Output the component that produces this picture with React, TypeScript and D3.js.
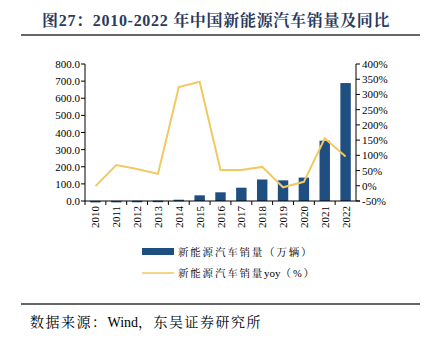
import React from "react";
import * as d3 from "d3";

const years = ["2010","2011","2012","2013","2014","2015","2016","2017","2018","2019","2020","2021","2022"];
const sales = [0.5, 0.8, 1.3, 1.8, 7.5, 33.1, 50.7, 77.7, 125.6, 120.6, 136.7, 352.1, 688.7];
const yoy = [-1, 68, 55, 39, 324, 342, 52, 52, 62, -5, 13, 156, 96];
const leftTicks = [0, 100, 200, 300, 400, 500, 600, 700, 800];
const rightTicks = [-50, 0, 50, 100, 150, 200, 250, 300, 350, 400];

const W = 428, H = 342;
const serif = "'Liberation Serif', 'Times New Roman', 'Noto Sans CJK SC', serif";
const cjk = "'Liberation Serif', 'Noto Serif CJK SC', 'Noto Sans CJK SC', serif";

export default function App() {
  const x0 = 85, x1 = 356, yTop = 64, yBot = 201;
  const x = d3.scaleBand<string>().domain(years).range([x0, x1]).paddingInner(0.5).paddingOuter(0.25);
  const yL = d3.scaleLinear().domain([0, 800]).range([yBot, yTop]);
  const yR = d3.scaleLinear().domain([-50, 400]).range([yBot, yTop]);
  const line = d3.line<number>()
    .x((_, i) => (x(years[i]) as number) + x.bandwidth() / 2)
    .y(d => yR(d));
  const step = (x1 - x0) / years.length;
  const barColor = "#1f4e80";
  const lineColor = "#f2c862";
  return (
    <div style={{ margin: -8, width: W, height: H }}>
      <svg width={W} height={H} style={{ display: "block", background: "#fff" }}>
        <text x={42} y={26} fontFamily={cjk} fontWeight="bold" fontSize={16} letterSpacing={0.7} fill="#2a3a5e">
          图27：2010-2022 年中国新能源汽车销量及同比
        </text>
        <line x1={0} x2={3} y1={35} y2={35} stroke="#333" strokeWidth={1} />
        <line x1={21} x2={W} y1={35} y2={35} stroke="#333" strokeWidth={1.5} />

        {/* bars */}
        {sales.map((v, i) => (
          <rect key={i} x={x(years[i])} y={yL(v)} width={x.bandwidth()} height={Math.max(yBot - yL(v), 1.5)} fill={barColor} />
        ))}
        {/* line */}
        <path d={line(yoy) || ""} fill="none" stroke={lineColor} strokeWidth={2} />

        {/* left axis */}
        <line x1={x0} x2={x0} y1={yTop} y2={yBot} stroke="#000" strokeWidth={1} />
        {leftTicks.map(t => (
          <g key={t}>
            <line x1={x0 - 4} x2={x0} y1={yL(t)} y2={yL(t)} stroke="#000" />
            <text x={x0 - 5} y={yL(t) + 4} textAnchor="end" fontFamily={serif} fontSize={11} fill="#000">{t.toFixed(1)}</text>
          </g>
        ))}
        {/* right axis */}
        <line x1={x1} x2={x1} y1={yTop} y2={yBot} stroke="#000" strokeWidth={1} />
        {rightTicks.map(t => (
          <g key={t}>
            <line x1={x1} x2={x1 + 4} y1={yR(t)} y2={yR(t)} stroke="#000" />
            <text x={x1 + 6} y={yR(t) + 4} textAnchor="start" fontFamily={serif} fontSize={11} fill="#000">{t}%</text>
          </g>
        ))}
        {/* x axis */}
        <line x1={x0} x2={x1 + 4} y1={yBot} y2={yBot} stroke="#000" strokeWidth={1} />
        {years.map((yr, i) => (
          <line key={"t" + yr} x1={x0 + step * i} x2={x0 + step * i} y1={yBot} y2={yBot + 4} stroke="#000" />
        ))}
        {years.map(yr => {
          const cx = (x(yr) as number) + x.bandwidth() / 2;
          return (
            <text key={yr} transform={`translate(${cx + 4},${yBot + 5}) rotate(-90)`} textAnchor="end" fontFamily={serif} fontSize={11} fill="#000">{yr}</text>
          );
        })}

        {/* legend */}
        <rect x={142} y={248} width={32} height={7} fill={barColor} />
        <text x={178} y={256} fontFamily={cjk} fontSize={10.5} letterSpacing={1.8} fill="#000">新能源汽车销量（万辆）</text>
        <line x1={142} x2={174} y1={273} y2={273} stroke={lineColor} strokeWidth={1.5} />
        <text x={178} y={277} fontFamily={cjk} fontSize={10.5} fill="#000">
          <tspan letterSpacing={1.8}>新能源汽车销量</tspan><tspan letterSpacing={0} fontSize={11}>yoy</tspan><tspan letterSpacing={1.8}>（%）</tspan>
        </text>

        <line x1={0} x2={3} y1={304} y2={304} stroke="#333" strokeWidth={1} />
        <line x1={21} x2={W} y1={304} y2={304} stroke="#333" strokeWidth={1.5} />
        <text x={30} y={327} fontFamily={cjk} fontSize={14} fill="#000">
          <tspan letterSpacing={1.5}>数据来源：</tspan><tspan letterSpacing={0}>Wind</tspan><tspan letterSpacing={1.5}>，东吴证券研究所</tspan>
        </text>
      </svg>
    </div>
  );
}
